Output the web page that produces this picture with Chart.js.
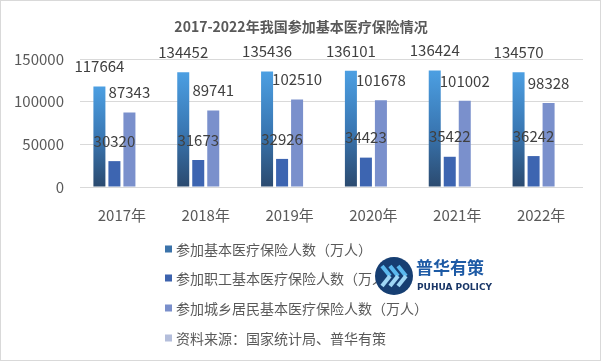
<!DOCTYPE html>
<html>
<head>
<meta charset="utf-8">
<script src="https://cdn.jsdelivr.net/npm/chart.js@4/dist/chart.umd.min.js"></script>
<style>
  html, body { margin: 0; padding: 0; background: #fff; }
  #wrap { width: 601px; height: 361px; position: relative; }
  #logo { position: absolute; left: 375px; top: 257px; width: 38px; height: 38px; }
</style>
</head>
<body>
<div id="wrap">
  <canvas id="insuranceChart" width="601" height="361"></canvas>
  <svg id="logo" viewBox="0 0 38 38">
    <circle cx="19" cy="19" r="19" fill="#163e72"></circle>
    <g stroke-width="4" fill="none">
      <path d="M7 9 L15 19" stroke="#5ab8ee"></path><path d="M15 19 L7 29" stroke="#9fd6f5"></path>
      <path d="M15 9 L23 19" stroke="#5ab8ee"></path><path d="M23 19 L15 29" stroke="#9fd6f5"></path>
      <path d="M23 9 L31 19" stroke="#5ab8ee"></path><path d="M31 19 L23 29" stroke="#9fd6f5"></path>
    </g>
  </svg>
</div>
<script>
const years = ["2017年", "2018年", "2019年", "2020年", "2021年", "2022年"];
const totalInsured = [117664, 134452, 135436, 136101, 136424, 134570];
const employeeInsured = [30320, 31673, 32926, 34423, 35422, 36242];
const residentInsured = [87343, 89741, 102510, 101678, 101002, 98328];
const sourceNote = [null, null, null, null, null, null];
const seriesNames = [
  "参加基本医疗保险人数（万人）",
  "参加职工基本医疗保险人数（万人）",
  "参加城乡居民基本医疗保险人数（万人）",
  "资料来源：国家统计局、普华有策"
];
const yTicks = [0, 50000, 100000, 150000];

const FONT = "'Noto Sans CJK SC', 'Noto Sans', sans-serif";

function barGradient(ctx) {
  const chart = ctx.chart;
  if (!chart.chartArea || ctx.parsed == null) return "#3f7fc0";
  const y = chart.scales.y;
  const top = y.getPixelForValue(ctx.parsed.y);
  const bottom = y.getPixelForValue(0);
  const g = chart.ctx.createLinearGradient(0, top, 0, bottom);
  g.addColorStop(0, "#4c9fe2");
  g.addColorStop(0.5, "#3a78b4");
  g.addColorStop(1, "#2b4a6f");
  return g;
}

// value labels above each bar
const valueLabels = {
  id: "valueLabels",
  afterDatasetsDraw(chart) {
    const c = chart.ctx;
    c.save();
    c.font = "15px " + FONT;
    c.fillStyle = "#404040";
    c.textAlign = "center";
    c.textBaseline = "middle";
    chart.data.datasets.forEach((ds, i) => {
      const meta = chart.getDatasetMeta(i);
      meta.data.forEach((bar, j) => {
        const v = ds.data[j];
        if (v == null) return;
        c.fillText(String(v), bar.x, bar.y - 20);
      });
    });
    c.restore();
  }
};

// title, vertical legend, logo text and frame
const decorations = {
  id: "decorations",
  afterDraw(chart) {
    const c = chart.ctx;
    c.save();
    c.fillStyle = "#595959";
    c.font = "bold 14px " + FONT;
    c.textAlign = "center";
    c.textBaseline = "middle";
    c.fillText("2017-2022年我国参加基本医疗保险情况", 301, 27);

    const legendColors = ["#3b73aa", "#3d63ae", "#7a8fcb", "#b4bedb"];
    c.font = "14px " + FONT;
    c.textAlign = "left";
    const rows = [249, 278, 308, 338];
    seriesNames.forEach((name, i) => {
      c.fillStyle = legendColors[i];
      c.fillRect(165, rows[i] - 3.5, 7, 7);
      c.fillStyle = "#595959";
      c.fillText(name, 176, rows[i] + 1);
    });

    c.fillStyle = "#1d5aa5";
    c.font = "bold 17px " + FONT;
    c.fillText("普华有策", 416, 268);
    c.fillStyle = "#1a3768";
    c.font = "bold 9px 'DejaVu Sans', sans-serif";
    c.fillText("PUHUA POLICY", 417, 288);

    c.strokeStyle = "#d9d9d9";
    c.lineWidth = 1;
    c.strokeRect(0.5, 0.5, 600, 360);
    c.restore();
  }
};

new Chart(document.getElementById("insuranceChart"), {
  type: "bar",
  data: {
    labels: years,
    datasets: [
      { label: seriesNames[0], data: totalInsured, backgroundColor: barGradient },
      { label: seriesNames[1], data: employeeInsured, backgroundColor: "#3d65b1" },
      { label: seriesNames[2], data: residentInsured, backgroundColor: "#7a90cc" },
      { label: seriesNames[3], data: sourceNote, backgroundColor: "#b4bedb" }
    ]
  },
  options: {
    responsive: false,
    animation: false,
    datasets: { bar: { categoryPercentage: 0.716, barPercentage: 0.8 } },
    layout: { padding: { top: 59, right: 18, left: 0, bottom: 0 } },
    plugins: { legend: { display: false }, tooltip: { enabled: false }, title: { display: false } },
    scales: {
      x: {
        grid: { display: false },
        border: { display: false },
        ticks: { color: "#595959", font: { family: FONT, size: 15 }, padding: 11 },
        afterFit(scale) { scale.height = 174; }
      },
      y: {
        min: 0,
        max: 150000,
        afterBuildTicks(scale) { scale.ticks = yTicks.map(v => ({ value: v })); },
        grid: { color: "#d9d9d9", drawTicks: false },
        border: { display: false },
        ticks: {
          color: "#595959",
          font: { family: FONT, size: 15 },
          padding: 16,
          callback: v => String(v)
        },
        afterFit(scale) { scale.width = 80; }
      }
    }
  },
  plugins: [valueLabels, decorations]
});
</script>
</body>
</html>
